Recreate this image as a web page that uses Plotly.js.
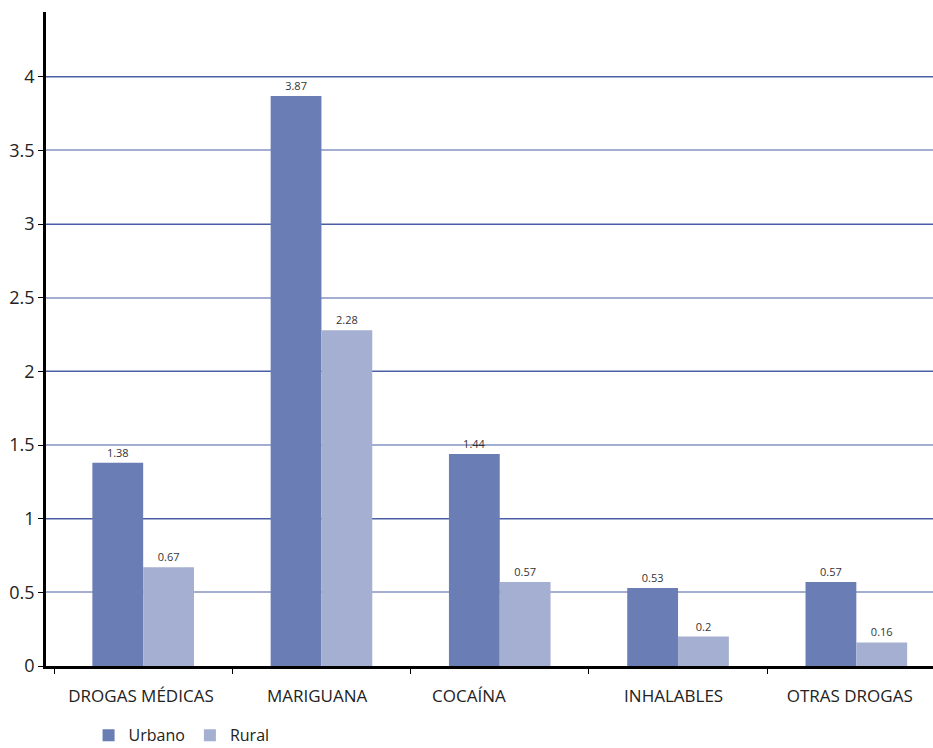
<!DOCTYPE html>
<html><head><meta charset="utf-8">
<script src="https://cdn.plot.ly/plotly-3.0.1.min.js"></script>
<style>html,body{margin:0;padding:0;background:#fff}</style>
</head><body>
<div id="chart" style="width:933px;height:748px"></div>
<script>
var categories = ["DROGAS MÉDICAS", "MARIGUANA", "COCAÍNA", "INHALABLES", "OTRAS DROGAS"];
var urbano = [1.38, 3.87, 1.44, 0.53, 0.57];
var rural = [0.67, 2.28, 0.57, 0.2, 0.16];
var yTicks = [0, 0.5, 1, 1.5, 2, 2.5, 3, 3.5, 4];
// trailing padding to reproduce the off-centre placement of labels in the original
var labelPad = [1, 2, 14, 2, 3];

var font = "Open Sans, Noto Sans, sans-serif";
var traces = [
  {type: "bar", name: "Urbano", x: categories, y: urbano, text: urbano.map(String),
   textposition: "outside", cliponaxis: false, marker: {color: "#6b7db5"},
   textfont: {size: 11, color: "#333333", family: font}},
  {type: "bar", name: "Rural", x: categories, y: rural, text: rural.map(String),
   textposition: "outside", cliponaxis: false, marker: {color: "#a5afd1"},
   textfont: {size: 11, color: "#333333", family: font}},
  {type: "scatter", x: [categories[0]], y: [0], yaxis: "y2", showlegend: false,
   hoverinfo: "skip", mode: "markers", marker: {opacity: 0}}
];
var layout = {
  width: 933, height: 748,
  margin: {l: 46, r: 0, t: 12, b: 82, autoexpand: false},
  paper_bgcolor: "#fff", plot_bgcolor: "rgba(0,0,0,0)",
  font: {family: font, color: "#222"},
  barmode: "group", bargap: 0.43, bargroupgap: 0,
  showlegend: true,
  legend: {orientation: "h", x: 0.048, xanchor: "left", y: -0.106, yanchor: "middle",
           font: {size: 16, color: "#222"}, traceorder: "normal", itemwidth: 30},
  xaxis: {type: "category", range: [-0.545, 4.43], showline: true, linecolor: "#000", linewidth: 2.5,
          ticks: "outside", tickson: "boundaries", ticklen: 5, tickcolor: "#000",
          tickvals: categories,
          ticktext: categories.map(function (c, i) { return c + "\u00a0".repeat(labelPad[i]); }),
          ticklabelstandoff: 13,
          tickfont: {size: 17, color: "#222"}, showgrid: false, zeroline: false},
  yaxis: {range: [0, 4.44], tickvals: yTicks, ticktext: yTicks.map(String),
          showline: true, linecolor: "#000", linewidth: 2.5, ticks: "outside", ticklen: 5,
          tickcolor: "#000", tickfont: {size: 18, color: "#222"},
          showgrid: true, gridcolor: "#a4aed0", gridwidth: 2, zeroline: false},
  yaxis2: {overlaying: "y", range: [0, 4.44], dtick: 1, showticklabels: false,
           showgrid: true, gridcolor: "#4a5ea6", gridwidth: 1.3, zeroline: false, showline: false, ticks: ""}
};
Plotly.newPlot("chart", traces, layout, {displayModeBar: false});
</script>
</body></html>
